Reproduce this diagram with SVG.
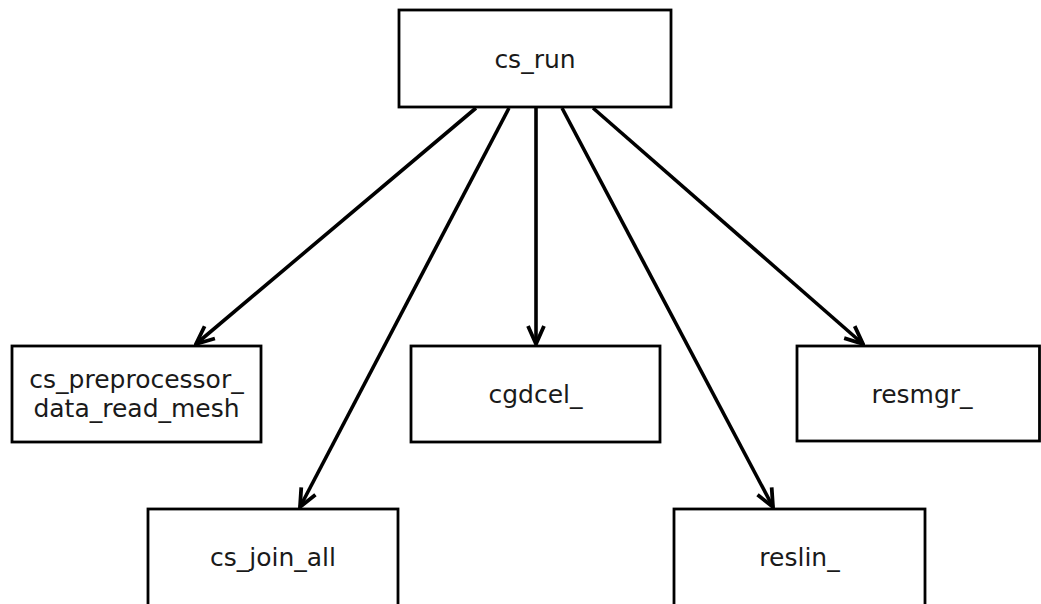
<svg xmlns="http://www.w3.org/2000/svg" width="1041" height="604" viewBox="0 0 1041 604">
<style>
.box{fill:#ffffff;stroke:#000000;stroke-width:2.8}
.lbl{font-family:"DejaVu Sans",sans-serif;font-size:25px;fill:#1a1a1a;text-anchor:middle}
.edge{fill:none;stroke:#000000;stroke-width:3.6}
</style>
<defs>
<marker id="arr" viewBox="0 0 22 20" refX="20" refY="10" markerWidth="22" markerHeight="20" markerUnits="userSpaceOnUse" orient="auto">
<path d="M2,2 L20,10 L2,18" fill="none" stroke="#000000" stroke-width="3.8" stroke-linejoin="miter"/>
</marker>
</defs>
<rect width="1041" height="604" fill="#ffffff"/>
<g id="connectors">
<line class="edge" x1="476" y1="108" x2="196" y2="344" marker-end="url(#arr)"/>
<line class="edge" x1="509" y1="108" x2="300" y2="507" marker-end="url(#arr)"/>
<line class="edge" x1="536" y1="108" x2="536" y2="344" marker-end="url(#arr)"/>
<line class="edge" x1="562" y1="108" x2="773" y2="507" marker-end="url(#arr)"/>
<line class="edge" x1="593" y1="108" x2="863" y2="344" marker-end="url(#arr)"/>
</g>
<g id="cs_run">
<rect class="box" x="399" y="10" width="272" height="97"/>
<text class="lbl" x="535" y="67.5">cs_run</text>
</g>
<g id="cs_preprocessor_data_read_mesh">
<rect class="box" x="12" y="346" width="249" height="96"/>
<text class="lbl" x="136.5" y="388">cs_preprocessor_</text>
<text class="lbl" x="136.5" y="417">data_read_mesh</text>
</g>
<g id="cgdcel_">
<rect class="box" x="411" y="346" width="249" height="96"/>
<text class="lbl" x="535.5" y="403">cgdcel_</text>
</g>
<g id="resmgr_">
<rect class="box" x="797" y="346" width="242.5" height="95"/>
<text class="lbl" x="922" y="403">resmgr_</text>
</g>
<g id="cs_join_all">
<rect class="box" x="148" y="509" width="250" height="100"/>
<text class="lbl" x="273" y="566">cs_join_all</text>
</g>
<g id="reslin_">
<rect class="box" x="674" y="509" width="251" height="100"/>
<text class="lbl" x="799.5" y="566">reslin_</text>
</g>
</svg>
